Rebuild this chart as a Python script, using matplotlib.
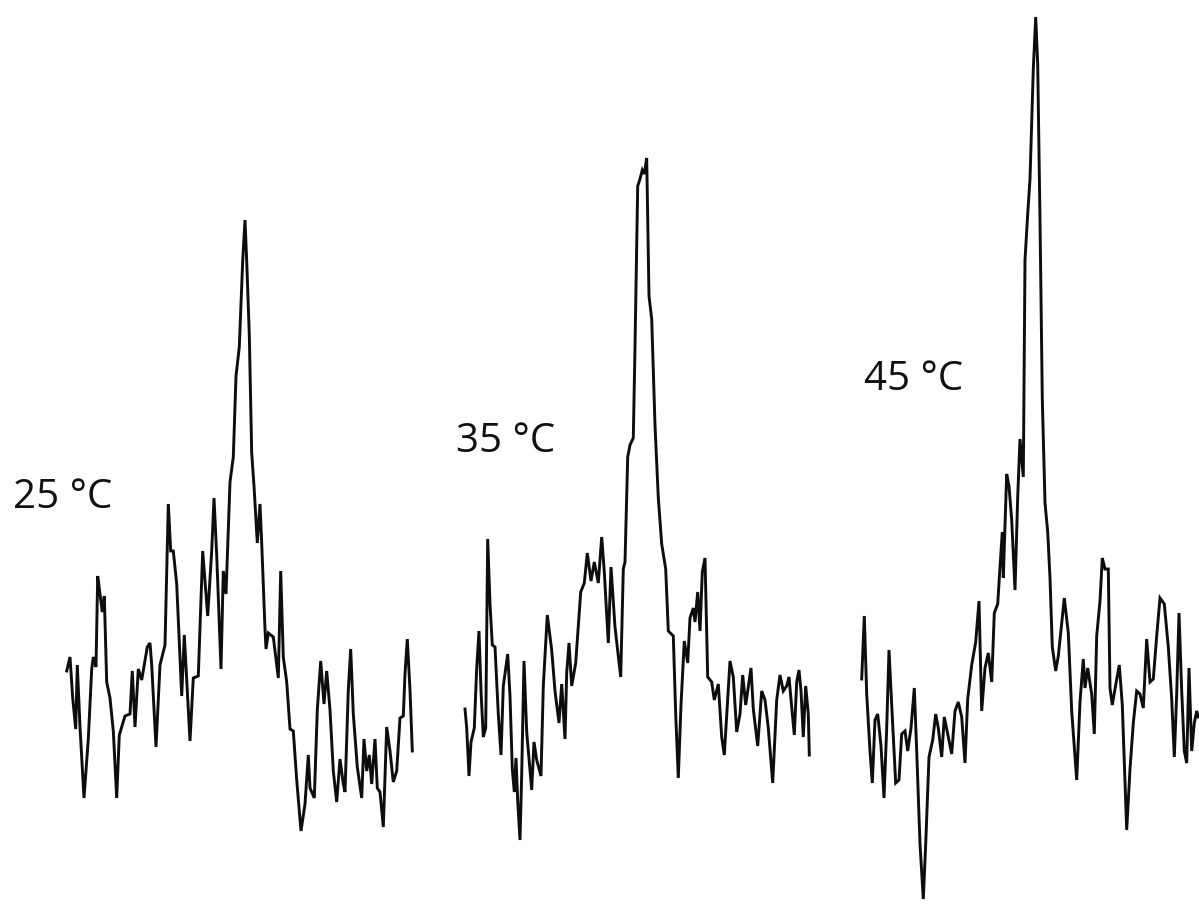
import matplotlib
matplotlib.use("Agg")
import matplotlib.pyplot as plt
import numpy as np

# Temperature labels
labels = ["25 °C", "35 °C", "45 °C"]

# Spectrum 25 °C : horizontal channel position, signal reading (downward-positive)
x25 = [66.7, 70, 72.7, 75.7, 77.3, 80, 84, 88.3, 91.7, 93.3, 96, 97.7, 100, 102.3, 104.3,
       106.7, 110, 113.3, 116.7, 119.3, 125, 130, 132.3, 135, 138.3, 141.7, 147.3, 150, 151.7,
       156, 160, 165, 168.3, 170.7, 173.3, 176.7, 181.7, 184.3, 190, 193.3, 198.3, 202.7,
       207.7, 211.7, 214, 216.7, 221, 223.3, 226, 230, 233.3, 236, 239.3, 242.7, 245, 246.7,
       249.3, 251.7, 254, 257.3, 260, 261.7, 265, 266, 268.3, 273.3, 278.3, 280.7, 283.3,
       286.7, 290, 293.3, 296.7, 301, 305, 308.3, 310, 314.3, 317.3, 320.7, 324, 326.7, 330,
       333.3, 336.7, 340, 343.3, 345, 348.3, 350.7, 353.3, 357.3, 361.7, 364, 366.7, 369.3,
       371.7, 375, 377.3, 380, 383.3, 386.7, 390, 393.3, 396.7, 400, 403.3, 405, 407.3, 410,
       412.3]
y25 = [671, 657, 698, 729, 665, 727, 798, 739, 669, 657, 667, 576, 594, 612, 596,
       682, 698, 731, 798, 735, 716, 714, 671, 727, 669, 680, 647, 643, 665,
       747, 665, 645, 504, 551, 551, 584, 696, 635, 741, 678, 676, 551,
       616, 551, 498, 555, 669, 571, 594, 482, 457, 376, 347, 261, 220, 261,
       335, 453, 486, 543, 504, 543, 629, 649, 633, 637, 678, 571, 657,
       682, 729, 731, 780, 831, 804, 755, 788, 798, 710, 661, 704, 671, 710,
       771, 802, 759, 784, 792, 690, 649, 714, 767, 798, 739, 771, 755,
       784, 739, 788, 792, 827, 727, 751, 782, 771, 718, 716, 674, 639, 690,
       751]

# Spectrum 35 °C
x35 = [465, 466.7, 469, 471, 474.3, 476.7, 479, 481, 483.3, 485.7, 487.7, 490, 492.3, 495,
       498.3, 501, 503.3, 507.7, 510, 512.3, 514.3, 516, 517.7, 520, 521.7, 524, 526.7, 531.7,
       534, 536.7, 541, 543.3, 547.3, 551.7, 555, 559, 561.7, 565, 566.7, 569, 571.7, 575.7,
       580.7, 584.3, 587.3, 591, 594.3, 598.3, 601.7, 604.3, 608.3, 611, 615, 620.7, 623.3,
       625, 627.7, 630, 633.3, 635, 637.7, 640, 642.3, 644.3, 646.7, 649, 651.7, 655, 658.3,
       661.7, 665.7, 668.3, 673.3, 675.7, 678.3, 681, 684.3, 687.7, 690, 693.3, 695, 697.7,
       700, 702.3, 705, 707.7, 711.7, 714.3, 718.3, 721.7, 724.3, 730, 733.3, 736.7, 740,
       742.7, 745.7, 751, 753.3, 757.7, 761.7, 765, 768.3, 772.7, 776.7, 780, 783.3, 786.7,
       789, 791.7, 794.3, 796.7, 799, 801, 803.3, 805.7, 808.3, 809.3]
y35 = [709, 728, 776, 742, 728, 668, 631, 691, 737, 728, 539, 604, 645, 647,
       714, 755, 686, 654, 696, 769, 792, 758, 801, 840, 774, 661, 732, 790,
       742, 760, 776, 686, 615, 650, 691, 723, 684, 739, 673, 643, 686, 663,
       592, 583, 553, 581, 562, 583, 537, 572, 643, 567, 627, 677, 569,
       562, 457, 445, 438, 347, 186, 179, 170, 174, 158, 296, 319, 425, 498,
       544, 569, 631, 636, 714, 778, 705, 641, 663, 618, 608, 622, 592,
       631, 572, 558, 677, 682, 700, 684, 737, 755, 661, 677, 732, 714,
       675, 705, 668, 709, 746, 691, 700, 728, 783, 700, 675, 691, 686,
       677, 707, 735, 682, 670, 691, 737, 686, 714, 755]

# Spectrum 45 °C
x45 = [861.7, 864.3, 866.7, 870, 872.3, 875, 877.7, 881, 884, 886.7, 889, 892.3, 895.7, 899,
       901.7, 905, 907.7, 911, 914.3, 916.7, 920, 923.3, 925.7, 929, 932.7, 935.7, 938.3,
       941.7, 944.3, 947.7, 951.7, 955, 958.3, 961.7, 965, 967.7, 971.7, 975.7, 979, 981.7,
       985, 988.3, 991.7, 994.3, 997.7, 1000, 1002.3, 1003.3, 1006.7, 1009, 1011.7, 1015,
       1017.7, 1020, 1023.3, 1025, 1027.7, 1030, 1033.3, 1035.7, 1037.7, 1040, 1042.3, 1045,
       1047.7, 1050, 1052.3, 1055.7, 1058.3, 1061, 1064.3, 1068.3, 1071.7, 1076.7, 1080,
       1083.3, 1085, 1087.7, 1091.7, 1094.3, 1096.7, 1100, 1102.3, 1105, 1108.3, 1110, 1112.3,
       1115.7, 1119.3, 1122.3, 1126.7, 1130, 1133.3, 1136.7, 1140, 1143.3, 1146.7, 1150,
       1153.3, 1156.7, 1160, 1164.3, 1168.3, 1171.7, 1174.3, 1176.7, 1179, 1181.7, 1184.3,
       1186.7, 1189, 1191.7, 1194.3, 1196.7, 1198.3]
y45 = [679, 616, 694, 751, 783, 720, 714, 746, 798, 728, 650, 717, 783, 780,
       734, 731, 751, 728, 688, 751, 844, 899, 844, 757, 740, 714, 728,
       757, 717, 734, 754, 711, 702, 717, 763, 699, 665, 642, 601, 711,
       668, 653, 682, 613, 604, 567, 532, 578, 474, 486, 520, 590,
       497, 439, 477, 260, 214, 179, 69, 17, 64, 220, 399, 503,
       532, 578, 647, 671, 656, 630, 598, 633, 711, 780, 702,
       659, 688, 668, 694, 734, 636, 601, 558, 569, 569, 688, 705,
       685, 665, 705, 830, 769, 723, 691, 694, 708, 639, 682,
       679, 636, 598, 604, 647, 699, 757, 694, 613, 691, 751,
       763, 668, 751, 723, 711, 717]

series = [(x25, y25), (x35, y35), (x45, y45)]
label_pos = [(13, 508), (456, 452), (864, 390)]

fig = plt.figure(figsize=(11.99, 9.06), dpi=100)
ax = fig.add_axes([0, 0, 1, 1])
ax.set_xlim(0, 1199)
ax.set_ylim(906, 0)
ax.axis("off")

for (xs, ys) in series:
    ax.plot(xs, ys, color="#0d0d0d", lw=2.1, solid_joinstyle="miter")

for lab, (lx, ly) in zip(labels, label_pos):
    ax.text(lx, ly, lab, fontsize=29, family=["Open Sans", "DejaVu Sans"],
            ha="left", va="baseline", color="#111111")

fig.savefig("out.png", dpi=100, facecolor="white")
